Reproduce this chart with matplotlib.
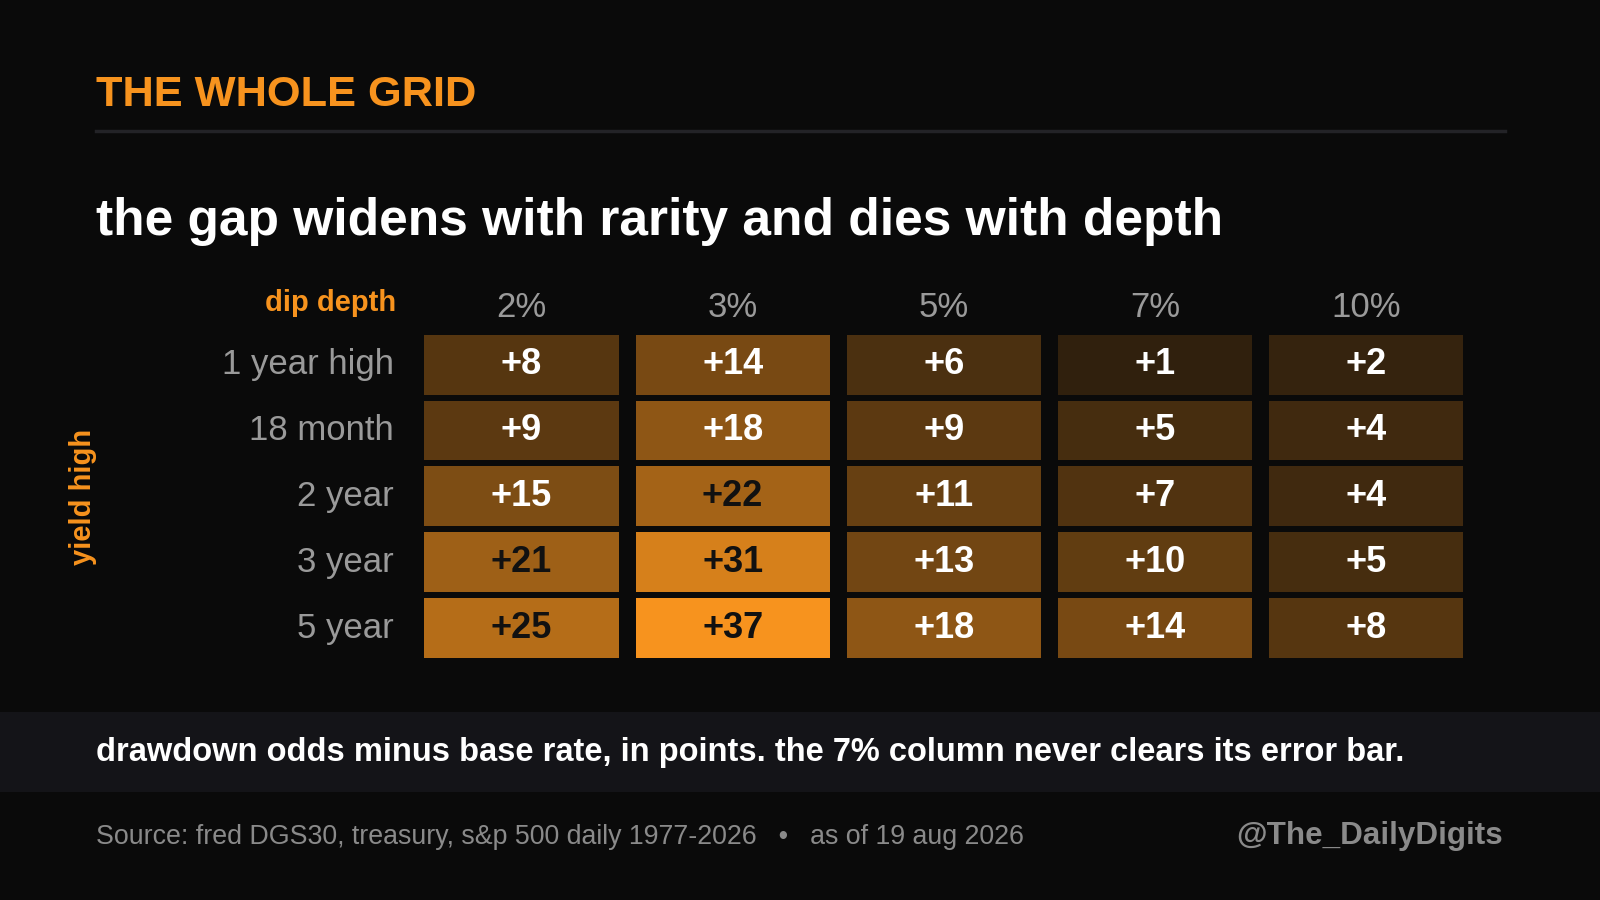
import numpy as np
import matplotlib
matplotlib.use('Agg')
import matplotlib.pyplot as plt
from matplotlib.patches import Rectangle

plt.rcParams['font.family'] = ['Liberation Sans', 'DejaVu Sans']

# data
depths = ['2%', '3%', '5%', '7%', '10%']
horizons = ['1 year high', '18 month', '2 year', '3 year', '5 year']
gap = np.array([
    [8, 14, 6, 1, 2],
    [9, 18, 9, 5, 4],
    [15, 22, 11, 7, 4],
    [21, 31, 13, 10, 5],
    [25, 37, 18, 14, 8],
])

BG = '#0a0a0a'
ORANGE = '#f7931e'
GRAY = '#9a9a9a'
W, H = 1600, 900

fig = plt.figure(figsize=(16, 9), dpi=100)
fig.patch.set_facecolor(BG)

def fx(px):
    return px / W

def fy(py):
    return 1 - py / H

# header
fig.text(fx(96), fy(106), 'THE WHOLE GRID', color=ORANGE, fontsize=31.2,
         fontweight='bold', va='baseline', ha='left')
fig.add_artist(plt.Line2D([fx(96), fx(1505)], [fy(131), fy(131)],
                          color='#232327', lw=2.5))
fig.text(fx(96), fy(235), 'the gap widens with rarity and dies with depth',
         color='white', fontsize=37.1, fontweight='bold', va='baseline', ha='left')

# grid
ax = fig.add_axes([fx(416), fy(661), fx(1471.5) - fx(416), fy(331.7) - fy(661)])
ax.set_facecolor(BG)
ax.set_xlim(-0.5, len(depths) - 0.5)
ax.set_ylim(len(horizons) - 0.5, -0.5)
ax.axis('off')

bg_rgb = np.array([10, 10, 10]) / 255
or_rgb = np.array(matplotlib.colors.to_rgb(ORANGE))
vmax = gap.max()
cw, ch = 1 - 17 / 211.3, 1 - 6 / 65.9
for i in range(len(horizons)):
    for j in range(len(depths)):
        v = gap[i, j]
        a = 0.135 + 0.865 * v / vmax
        col = bg_rgb + a * (or_rgb - bg_rgb)
        ax.add_patch(Rectangle((j - cw / 2, i - ch / 2), cw, ch, facecolor=col,
                               edgecolor='none'))
        tc = '#111111' if v >= 20 else 'white'
        ax.text(j, i, f'+{v}', ha='center', va='center', color=tc,
                fontsize=26, fontweight='bold')

# column headers (pixel offsets converted to data units)
row_px, col_px = 65.9, 211.3
for j, d in enumerate(depths):
    ax.text(j, -0.5 - (334 - 310) / row_px, d, ha='center', va='center',
            color=GRAY, fontsize=25, clip_on=False)
ax.text(-0.5 - 20 / col_px, -0.5 - (334 - 305) / row_px, 'dip depth',
        ha='right', va='center', color=ORANGE, fontsize=21,
        fontweight='bold', clip_on=False)

# row labels
for i, h in enumerate(horizons):
    ax.text(-0.5 - 22 / col_px, i, h, ha='right', va='center', color=GRAY,
            fontsize=25, clip_on=False)

fig.text(fx(83), fy(497), 'yield high', rotation=90, ha='center', va='center',
         color=ORANGE, fontsize=21, fontweight='bold')

# footer band
fig.add_artist(Rectangle((0, fy(792)), 1, fy(712) - fy(792),
                         transform=fig.transFigure, facecolor='#141418',
                         edgecolor='none'))
fig.text(fx(96), fy(753), 'drawdown odds minus base rate, in points. the 7% column never clears its error bar.',
         color='white', fontsize=23.5, fontweight='bold', ha='left', va='center')

fig.text(fx(96), fy(837), 'Source: fred DGS30, treasury, s&p 500 daily 1977-2026   \u2022   as of 19 aug 2026',
         color='#8a8a8a', fontsize=19.3, ha='left', va='center')
fig.text(fx(1503), fy(836), '@The_DailyDigits', color='#8a8a8a', fontsize=22.6,
         fontweight='bold', ha='right', va='center')

fig.savefig('out.png', dpi=100, facecolor=BG)
